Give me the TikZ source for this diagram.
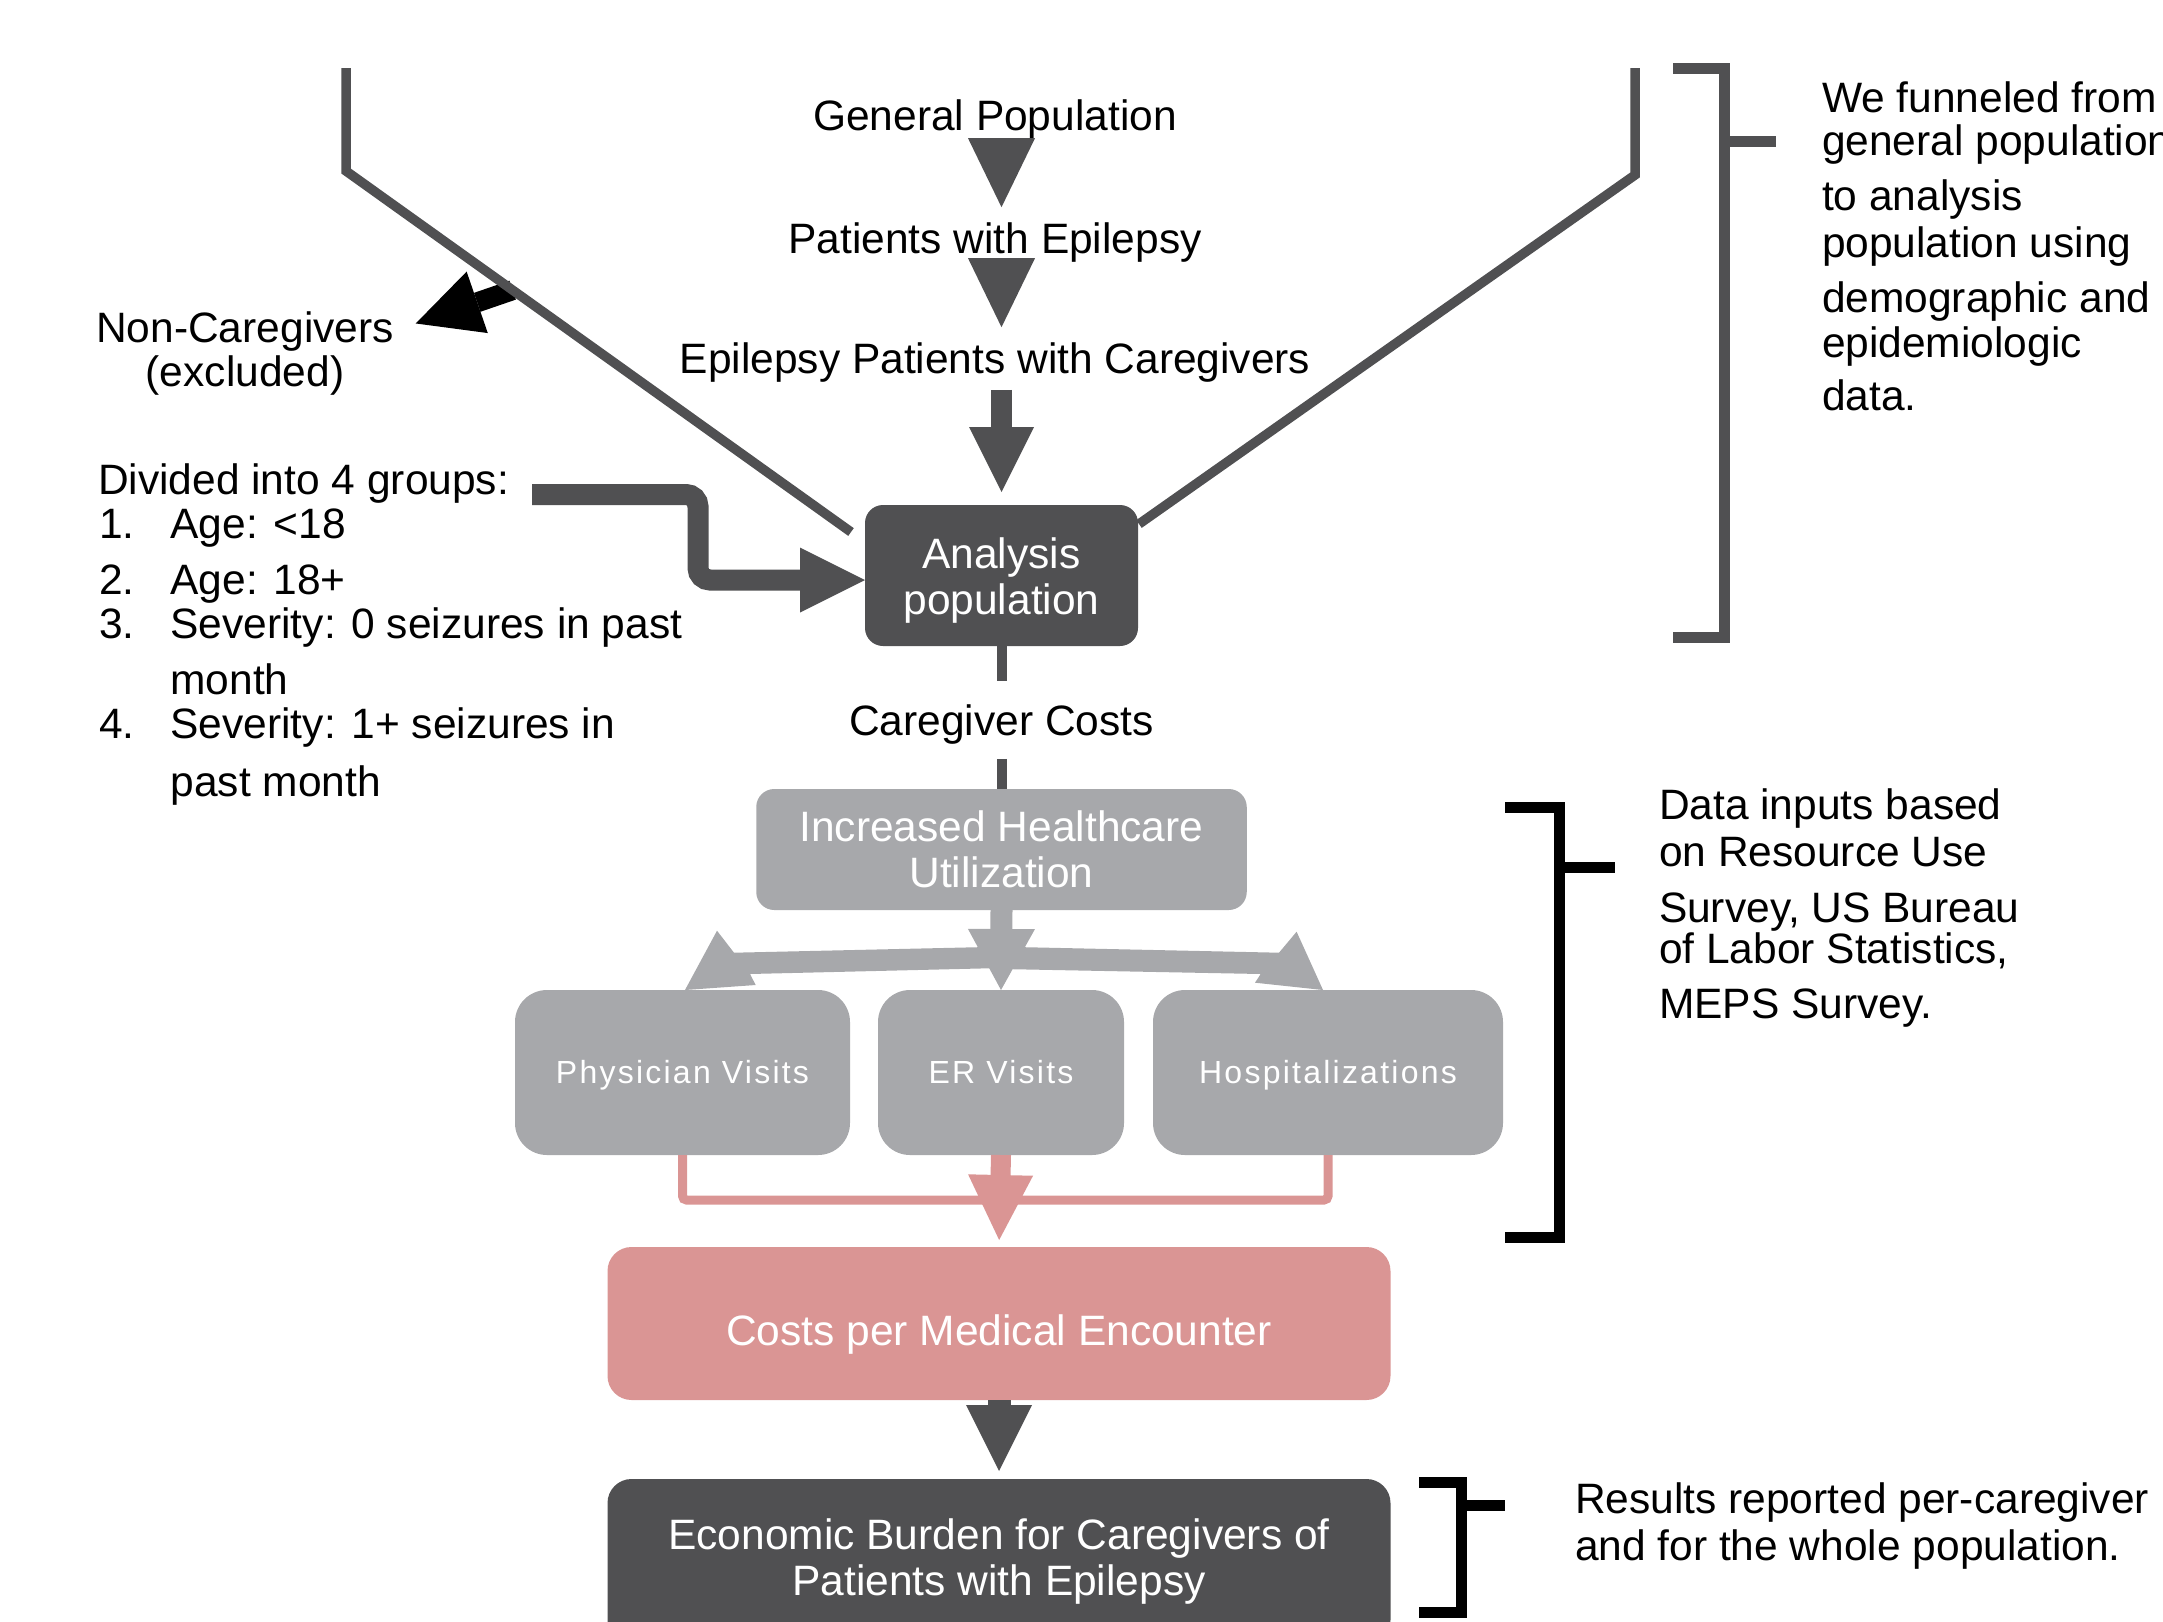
\documentclass[tikz,border=0pt]{standalone}
\usepackage{fontspec}
\setmainfont{Liberation Sans}
\newfontfamily\spacedfont[LetterSpace=7]{Liberation Sans}
\usetikzlibrary{arrows.meta,calc}
\definecolor{dk}{RGB}{80,80,82}
\definecolor{gy}{RGB}{167,168,171}
\definecolor{pk}{RGB}{218,149,148}
\begin{document}
\begin{tikzpicture}[x=0.5pt,y=-0.5pt,
  every node/.style={inner sep=0pt,outer sep=0pt,font=\fontsize{21.25pt}{22.75pt}\selectfont},
  lbl/.style={anchor=base},
  lbll/.style={anchor=base west},
  box/.style={text=white,align=center},
  dkbox/.style={box,fill=dk,rounded corners=9pt},
  gybox/.style={box,fill=gy,rounded corners=9pt},
  smbox/.style={box,fill=gy,rounded corners=16pt,minimum height=82.5pt,text height=12pt,text depth=1.5pt,
    font=\spacedfont\fontsize{16pt}{18pt}\selectfont},
  pkbox/.style={box,fill=pk,rounded corners=12pt},
  tri/.style={draw=dk,line width=0.1pt,-{Triangle[width=33.5pt,length=34.5pt,line width=0pt]},shorten >=7.5pt},
  fatarrow/.style={line width=#1,line cap=butt},
  funnel/.style={draw=dk,line width=4.75pt,line join=miter},
  bracketline/.style={line width=5.5pt,line join=miter,line cap=butt}
]
\useasboundingbox (0,0) rectangle (2163,1622);
\clip (0,0) rectangle (2163,1622);

% ---------- text labels ----------
\node[lbl] (gp) at (995,130) {General Population};
\node[lbl] (pe) at (995,253) {Patients with Epilepsy};
\node[lbl] (epc) at (995,373) {Epilepsy Patients with Caregivers};
\node[lbl] (nc1) at (245,342) {Non-Caregivers};
\node[lbl] (nc2) at (245,386) {(excluded)};
\node[lbll] (dv) at (98,494) {Divided into 4 groups:};
\node[lbll] (n1) at (99,538) {1.};
\node[lbll] (t1) at (170.5,538) {Age: <18};
\node[lbll] (n2) at (99,594) {2.};
\node[lbll] (t2) at (170.5,594) {Age: 18+};
\node[lbll] (n3) at (99,638) {3.};
\node[lbll] (t3) at (170.5,638) {Severity: 0 seizures in past};
\node[lbll] (t3b) at (170.5,694) {month};
\node[lbll] (n4) at (99,738) {4.};
\node[lbll] (t4) at (170.5,738) {Severity: 1+ seizures in};
\node[lbll] (t4b) at (170.5,796) {past month};
\node[lbl] (cc) at (1001.5,735) {Caregiver Costs};

\node[lbll] (wf1) at (1822,112) {We funneled from};
\node[lbll] (wf2) at (1822,155) {general population};
\node[lbll] (wf3) at (1822,210) {to analysis};
\node[lbll] (wf4) at (1822,257) {population using};
\node[lbll] (wf5) at (1822,312) {demographic and};
\node[lbll] (wf6) at (1822,357) {epidemiologic};
\node[lbll] (wf7) at (1822,410) {data.};

\node[lbll] (di1) at (1659,819) {Data inputs based};
\node[lbll] (di2) at (1659,866) {on Resource Use};
\node[lbll] (di3) at (1659,922) {Survey, US Bureau};
\node[lbll] (di4) at (1659,963) {of Labor Statistics,};
\node[lbll] (di5) at (1659,1018) {MEPS Survey.};

\node[lbll] (rr1) at (1575,1513) {Results reported per-caregiver};
\node[lbll] (rr2) at (1575,1560) {and for the whole population.};

% ---------- boxes ----------
\node[dkbox,minimum width=136.5pt,minimum height=70.5pt] (ana) at (1001.5,575.5) {\rule{0pt}{20.5pt}Analysis\\population};
\node[gybox,minimum width=245.25pt,minimum height=60.5pt] (ihu) at (1001.5,849.5) {Increased Healthcare\\Utilization};
\node[smbox,minimum width=167.5pt] (pv) at (682.5,1072.5) {Physician Visits};
\node[smbox,minimum width=123pt] (er) at (1001,1072.5) {ER Visits};
\node[smbox,minimum width=175pt] (hosp) at (1328,1072.5) {Hospitalizations};
\node[pkbox,minimum width=391.5pt,minimum height=76.5pt,text height=26pt,text depth=4.5pt] (cost) at (999,1323.5) {Costs per Medical Encounter};
\node[dkbox,rounded corners=12pt,minimum width=391.5pt,minimum height=82.5pt] (econ) at (999,1561.5) {Economic Burden for Caregivers of\\Patients with Epilepsy};

% ---------- funnel ----------
\coordinate (fl1) at (346,68);
\coordinate (fl2) at (346,171);
\coordinate (fl3) at (851,532);
\coordinate (fr1) at (1635,68);
\coordinate (fr2) at (1635,175);
\coordinate (fr3) at (1139,524);

% excluded arrow (black), under the funnel line
\coordinate (ncs) at ($(fl2)!0.33!(fl3)$);
\draw[fatarrow=10pt,draw=black,shorten >=11.6pt,
  -{Triangle[width=32.5pt,length=32.5pt,line width=0pt]}] (ncs) -- (nc1.east);

\draw[funnel] (fl1) -- (fl2) -- (fl3);
\draw[funnel] (fr1) -- (fr2) -- (fr3);

% ---------- funnel arrows ----------
\draw[tri] (gp.south -| ana.north) -- (pe.north -| ana.north);
\draw[tri] (pe.south -| ana.north) -- (epc.north -| ana.north);
\draw[fatarrow=10.5pt,draw=dk,shorten <=4pt,shorten >=6.5pt,
  -{Triangle[width=32.5pt,length=32.5pt,line width=0pt]}] (epc.south -| ana.north) -- (ana.north);

% groups elbow arrow
\coordinate (dvs) at (532,494.5);
\coordinate (elb) at (698,580);
\draw[fatarrow=10.5pt,draw=dk,rounded corners=6pt,
  -{Triangle[width=32.5pt,length=32.5pt,line width=0pt]}] (dvs) -| (elb) -- (elb -| ana.west);

% analysis -> caregiver costs -> utilization
\draw[draw=dk,line width=5pt,shorten >=11.5pt] (ana.south) -- (cc.north -| ana.south);
\draw[draw=dk,line width=5pt,shorten <=7.5pt] (cc.south -| ana.south) -- (ihu.north);

% ---------- branching to encounter types ----------
\fill[gy] (1001,946.7) -- (734,952.7) -- (717,930.7) -- (685,990) -- (755.7,985) -- (750,974) -- (1001,968) -- cycle;
\fill[gy] (1001,946.7) -- (1279,952.7) -- (1296.6,931.7) -- (1323,990) -- (1255,982.7) -- (1260.7,974) -- (1001,969) -- cycle;
\draw[fatarrow=11pt,draw=gy,
  -{Triangle[width=33.5pt,length=30.5pt,line width=0pt]}] (ihu.south) -- (er.north);

% ---------- pink merge ----------
\draw[draw=pk,line width=4.5pt,rounded corners=2pt] (pv.south) -- ++(0,45) -| (hosp.south);
\draw[fatarrow=10pt,draw=pk,shorten >=3.5pt,
  -{Triangle[width=32.5pt,length=32.5pt,line width=0pt]}] (er.south) -- (cost.north);

% cost -> economic burden
\draw[fatarrow=11.5pt,draw=dk,shorten >=4pt,
  -{Triangle[width=33pt,length=33pt,line width=0pt]}] (cost.south) -- (econ.north);

% ---------- brackets ----------
\draw[bracketline,draw=dk] (1673,68.5) -- (1724.5,68.5) -- (1724.5,637.5) -- (1673,637.5);
\draw[bracketline,draw=dk] (1724.5,141) -- (1776,141);

\draw[bracketline,draw=black] (1505,807.5) -- (1559.5,807.5) -- (1559.5,1237.5) -- (1505,1237.5);
\draw[bracketline,draw=black] (1559.5,867.5) -- (1615,867.5);

\draw[bracketline,draw=black] (1419,1482) -- (1461,1482) -- (1461,1612) -- (1419,1612);
\draw[bracketline,draw=black] (1461,1505) -- (1505,1505);
\end{tikzpicture}
\end{document}
